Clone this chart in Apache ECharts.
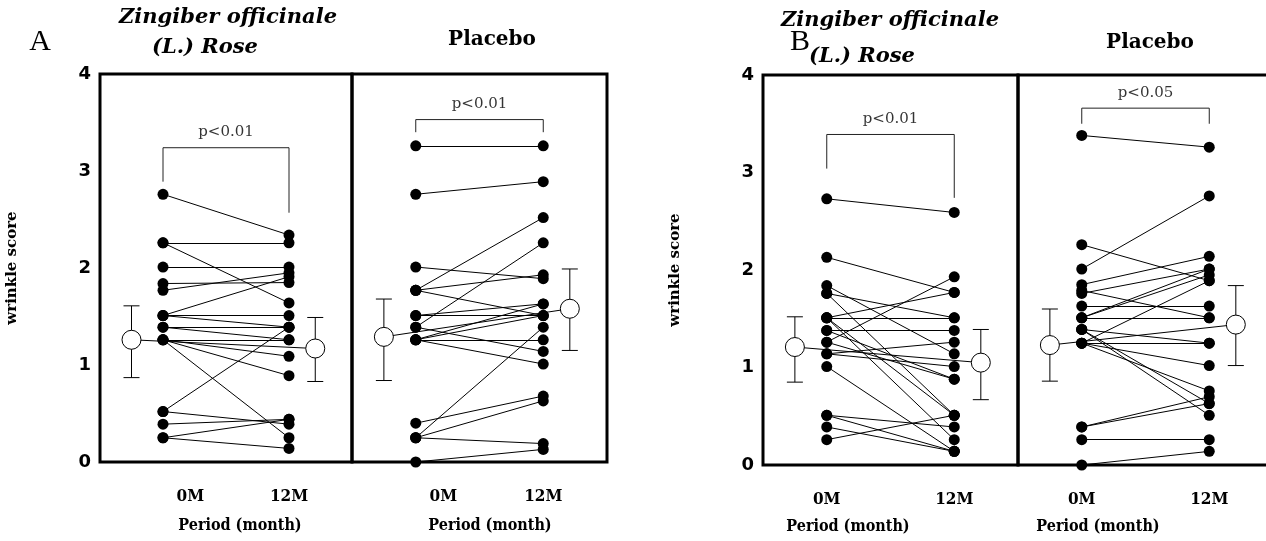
<!DOCTYPE html>
<html>
<head>
<meta charset="utf-8">
<title>wrinkle score</title>
<script src="https://cdn.jsdelivr.net/npm/echarts@6/dist/echarts.min.js"></script>
<style>
  body { margin: 0; background: #fff; }
  #chart { width: 1266px; height: 541px; }
</style>
</head>
<body>
<div id="chart"></div>
<script>
// tick labels and period labels
var yTicks = [0, 1, 2, 3, 4];
var periods = ['0M', '12M'];
var meanX = [-3, 14.5];   // where the mean +/- SD marks sit (months)

// A - Zingiber officinale, paired scores at 0M and 12M
var aZing0  = [2.76, 2.26, 2.26, 2.01, 1.84, 1.77, 1.51, 1.51, 1.51, 1.39, 1.39, 1.26, 1.26, 1.26, 1.26, 0.52, 0.52, 0.39, 0.25, 0.25];
var aZing12 = [2.34, 2.26, 1.64, 2.01, 1.85, 1.95, 1.91, 1.51, 1.39, 1.39, 1.26, 1.26, 1.09, 0.89, 0.25, 1.39, 0.39, 0.44, 0.44, 0.14];
var aZingMean = [1.26, 1.17];
var aZingErr  = [[0.87, 1.61], [0.83, 1.49]];
var aZingBr   = [2.89, 3.24, 2.57];

// A - Placebo
var aPla0  = [3.26, 2.76, 2.01, 1.77, 1.77, 1.77, 1.51, 1.51, 1.39, 1.39, 1.26, 1.26, 1.26, 1.26, 0.40, 0.25, 0.25, 0.25, 0.00];
var aPla12 = [3.26, 2.89, 1.89, 2.52, 1.93, 1.51, 1.63, 1.51, 2.26, 1.14, 1.63, 1.51, 1.26, 1.01, 0.68, 1.39, 0.63, 0.19, 0.13];
var aPlaMean = [1.29, 1.58];
var aPlaErr  = [[0.84, 1.68], [1.15, 1.99]];
var aPlaBr   = [3.40, 3.53, 3.40];

// B - Zingiber officinale
var bZing0  = [2.73, 2.13, 1.84, 1.76, 1.76, 1.51, 1.51, 1.51, 1.51, 1.38, 1.38, 1.26, 1.26, 1.14, 1.14, 1.01, 0.51, 0.51, 0.39, 0.26];
var bZing12 = [2.59, 1.77, 1.14, 1.51, 0.51, 1.77, 1.51, 0.26, 0.51, 1.38, 0.88, 1.93, 0.88, 1.26, 1.01, 0.14, 0.39, 0.14, 0.14, 0.51];
var bZingMean = [1.21, 1.05];
var bZingErr  = [[0.85, 1.52], [0.67, 1.39]];
var bZingBr   = [3.04, 3.39, 2.74];

// B - Placebo
var bPla0  = [3.38, 2.26, 2.01, 1.85, 1.79, 1.76, 1.63, 1.51, 1.51, 1.51, 1.39, 1.39, 1.39, 1.25, 1.25, 1.25, 1.25, 0.39, 0.39, 0.26, 0.00];
var bPla12 = [3.26, 1.89, 2.76, 2.14, 1.51, 2.01, 1.63, 1.51, 2.01, 1.95, 0.63, 0.51, 1.25, 1.89, 1.25, 1.02, 0.76, 0.70, 0.63, 0.26, 0.14];
var bPlaMean = [1.23, 1.44];
var bPlaErr  = [[0.86, 1.60], [1.02, 1.84]];
var bPlaBr   = [3.50, 3.66, 3.50];

var panels = [
  {left: 100, width: 252, top: 74, height: 388, pre: aZing0, post: aZing12, mean: aZingMean, err: aZingErr, br: aZingBr, p: 'p<0.01', first: true, lab: [2.6, 12]},
  {left: 352, width: 255, top: 74, height: 388, pre: aPla0, post: aPla12, mean: aPlaMean, err: aPlaErr, br: aPlaBr, p: 'p<0.01', first: false, lab: [2.6, 12]},
  {left: 763, width: 255, top: 75, height: 390, pre: bZing0, post: bZing12, mean: bZingMean, err: bZingErr, br: bZingBr, p: 'p<0.01', first: true, lab: [0, 12]},
  {left: 1018, width: 255, top: 75, height: 390, pre: bPla0, post: bPla12, mean: bPlaMean, err: bPlaErr, br: bPlaBr, p: 'p<0.05', first: false, lab: [0, 12]}
];

var serif = '"DejaVu Serif", "Liberation Serif", serif';
var cond = '"DejaVu Serif Condensed", ' + serif;

var grids = [], xAxes = [], yAxes = [], series = [];
panels.forEach(function (p, i) {
  grids.push({left: p.left, top: p.top, width: p.width, height: p.height, show: true,
    outerBoundsMode: 'none', containLabel: false,
    borderColor: '#000', borderWidth: 3, backgroundColor: 'transparent'});
  xAxes.push({
    gridIndex: i, type: 'value', min: -6, max: 18,
    axisLine: {show: false}, axisTick: {show: false}, splitLine: {show: false},
    axisLabel: {
      customValues: p.lab, margin: 26, color: '#000', fontSize: 17, fontWeight: 'bold',
      fontFamily: cond,
      formatter: function (v) { return v === p.lab[0] ? periods[0] : periods[1]; }
    }
  });
  yAxes.push({
    gridIndex: i, type: 'value', min: yTicks[0], max: yTicks[yTicks.length - 1], interval: 1,
    axisLine: {show: false}, axisTick: {show: false}, splitLine: {show: false},
    axisLabel: {show: p.first, color: '#000', fontSize: 18, fontWeight: 'bold',
      fontFamily: '"DejaVu Sans", sans-serif', margin: 9},
    name: p.first ? 'wrinkle score' : '', nameLocation: 'middle', nameRotate: 90, nameGap: 80,
    nameTextStyle: {color: '#000', fontSize: 15, fontWeight: 'bold', fontFamily: serif}
  });

  // subject lines 0M -> 12M
  series.push({
    type: 'lines', coordinateSystem: 'cartesian2d', xAxisIndex: i, yAxisIndex: i,
    silent: true, z: 2,
    lineStyle: {color: '#000', width: 1, opacity: 1},
    data: p.pre.map(function (v, k) { return {coords: [[0, v], [12, p.post[k]]]}; })
  });
  // subject dots
  series.push({
    type: 'scatter', xAxisIndex: i, yAxisIndex: i, symbolSize: 11, clip: false, z: 3,
    itemStyle: {color: '#000', opacity: 1}, silent: true,
    data: p.pre.map(function (v) { return [0, v]; }).concat(p.post.map(function (v) { return [12, v]; }))
  });
  // error bars (mean +/- SD)
  series.push({
    type: 'custom', xAxisIndex: i, yAxisIndex: i, z: 4, silent: true,
    data: [[meanX[0], p.err[0][0], p.err[0][1]], [meanX[1], p.err[1][0], p.err[1][1]]],
    renderItem: function (params, api) {
      var lo = api.coord([api.value(0), api.value(1)]);
      var hi = api.coord([api.value(0), api.value(2)]);
      var w = 8;
      var st = {stroke: '#000', lineWidth: 1};
      return {type: 'group', children: [
        {type: 'line', shape: {x1: lo[0], y1: lo[1], x2: hi[0], y2: hi[1]}, style: st},
        {type: 'line', shape: {x1: lo[0] - w, y1: lo[1], x2: lo[0] + w, y2: lo[1]}, style: st},
        {type: 'line', shape: {x1: hi[0] - w, y1: hi[1], x2: hi[0] + w, y2: hi[1]}, style: st}
      ]};
    }
  });
  // mean circles and the line joining them
  series.push({
    type: 'line', xAxisIndex: i, yAxisIndex: i, z: 5, silent: true,
    symbol: 'circle', symbolSize: 19, showSymbol: true,
    itemStyle: {color: '#fff', borderColor: '#000', borderWidth: 1, opacity: 1},
    lineStyle: {color: '#000', width: 1},
    data: [[meanX[0], p.mean[0]], [meanX[1], p.mean[1]]]
  });
  // significance bracket
  series.push({
    type: 'line', xAxisIndex: i, yAxisIndex: i, z: 2, silent: true, symbol: 'none',
    lineStyle: {color: '#222', width: 1},
    data: [[0, p.br[0]], [0, p.br[1]], [12, p.br[1]], [12, p.br[2]]]
  });
  series.push({
    type: 'scatter', xAxisIndex: i, yAxisIndex: i, symbolSize: 0, silent: true,
    data: [[6, p.br[1]]],
    label: {show: true, position: 'top', distance: 8, formatter: p.p,
      color: '#000', fontSize: 15, fontFamily: serif}
  });
});

function txt(x, y, s, size, weight, style, family) {
  return {type: 'text', x: x, y: y, style: {text: s, fill: '#000', fontSize: size,
    fontWeight: weight || 'normal', fontStyle: style || 'normal', fontFamily: family || serif,
    align: 'center', verticalAlign: 'middle'}};
}

var graphics = [
  txt(40, 42, 'A', 30, 'normal', 'normal', '"Liberation Serif", serif'),
  txt(800, 42, 'B', 30, 'normal', 'normal', '"Liberation Serif", serif'),
  txt(228, 18, 'Zingiber officinale', 21, 'bold', 'italic'),
  txt(205, 48, '(L.) Rose', 21, 'bold', 'italic'),
  txt(492, 40, 'Placebo', 20, 'bold'),
  txt(890, 21, 'Zingiber officinale', 21, 'bold', 'italic'),
  txt(862, 57, '(L.) Rose', 21, 'bold', 'italic'),
  txt(1150, 43, 'Placebo', 20, 'bold'),
  txt(240, 526, 'Period (month)', 16, 'bold', 'normal', cond),
  txt(490, 526, 'Period (month)', 16, 'bold', 'normal', cond),
  txt(848, 527, 'Period (month)', 16, 'bold', 'normal', cond),
  txt(1098, 527, 'Period (month)', 16, 'bold', 'normal', cond)
];

var myChart = echarts.init(document.getElementById('chart'));
myChart.setOption({
  animation: false,
  backgroundColor: '#fff',
  grid: grids,
  xAxis: xAxes,
  yAxis: yAxes,
  series: series,
  graphic: graphics
});
</script>
</body>
</html>
